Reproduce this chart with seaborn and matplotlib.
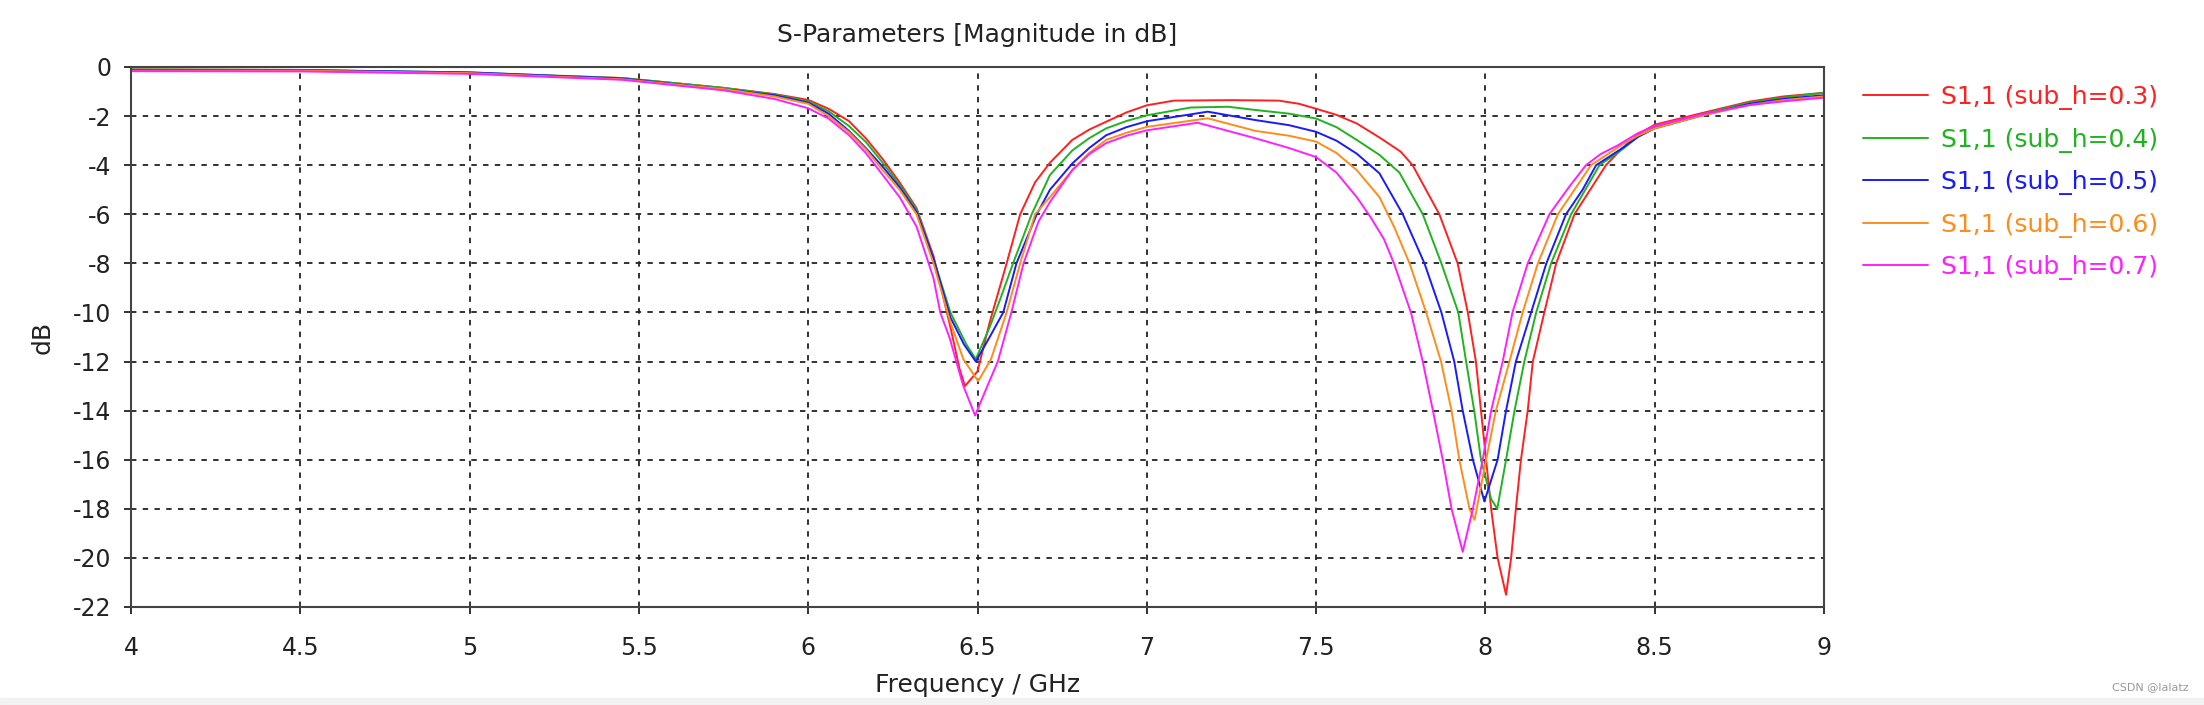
import numpy as np
import pandas as pd
import matplotlib
matplotlib.use('Agg')
import matplotlib.pyplot as plt
import seaborn as sns
from matplotlib.ticker import FormatStrFormatter

# values (GHz, dB)
freq_03 = [4.0, 4.5, 5.0, 5.45, 5.75, 5.9, 6.0, 6.06, 6.12, 6.17, 6.22, 6.27, 6.32, 6.37, 6.42, 6.447,
           6.463, 6.50, 6.536, 6.586, 6.626, 6.67, 6.714, 6.78, 6.83, 6.88, 6.94, 7.0, 7.08, 7.25, 7.39,
           7.45, 7.5, 7.56, 7.62, 7.687, 7.75, 7.785, 7.864, 7.918, 7.948, 7.972, 7.987, 8.002, 8.017,
           8.036, 8.061, 8.076, 8.09, 8.105, 8.125, 8.14, 8.174, 8.209, 8.263, 8.356, 8.405, 8.45, 8.5,
           8.633, 8.78, 8.88, 9.0]
s11_03 = [-0.1, -0.12, -0.25, -0.45, -0.85, -1.1, -1.34, -1.7, -2.2, -2.9, -3.75, -4.7, -5.75, -7.7,
          -10.6, -12.3, -13.0, -12.4, -10.4, -8.0, -6.0, -4.7, -3.9, -2.97, -2.55, -2.23, -1.85, -1.56,
          -1.37, -1.35, -1.37, -1.5, -1.7, -1.95, -2.3, -2.87, -3.45, -4.0, -6.0, -8.0, -10.0, -12.0,
          -14.0, -16.0, -18.0, -20.0, -21.5, -20.0, -18.0, -16.0, -14.0, -12.0, -10.0, -8.0, -6.0, -4.0,
          -3.3, -2.75, -2.35, -1.9, -1.41, -1.2, -1.05]

freq_04 = [4.0, 4.5, 5.0, 5.45, 5.75, 5.9, 6.0, 6.06, 6.12, 6.17, 6.22, 6.27, 6.32, 6.37, 6.42, 6.467,
           6.495, 6.536, 6.566, 6.605, 6.66, 6.714, 6.78, 6.83, 6.88, 6.94, 7.0, 7.13, 7.24, 7.32, 7.42,
           7.5, 7.56, 7.62, 7.687, 7.746, 7.815, 7.87, 7.92, 7.943, 7.967, 7.987, 8.017, 8.035, 8.061,
           8.086, 8.115, 8.15, 8.194, 8.253, 8.337, 8.405, 8.45, 8.5, 8.633, 8.78, 8.88, 9.0]
s11_04 = [-0.1, -0.12, -0.22, -0.45, -0.85, -1.12, -1.4, -1.8, -2.4, -3.05, -3.9, -4.8, -5.8, -7.8,
          -10.0, -11.3, -11.9, -10.6, -9.5, -8.0, -6.0, -4.4, -3.4, -2.9, -2.5, -2.2, -1.97, -1.65, -1.62,
          -1.75, -1.9, -2.1, -2.45, -2.97, -3.58, -4.3, -6.0, -8.0, -10.0, -12.0, -14.0, -16.0, -17.6,
          -18.0, -16.0, -14.0, -12.0, -10.0, -8.0, -6.0, -4.0, -3.35, -2.85, -2.45, -1.95, -1.45, -1.25,
          -1.05]

freq_05 = [4.0, 4.5, 5.0, 5.45, 5.75, 5.9, 6.0, 6.06, 6.12, 6.17, 6.22, 6.27, 6.32, 6.37, 6.42, 6.46,
           6.495, 6.536, 6.576, 6.615, 6.675, 6.714, 6.78, 6.83, 6.88, 6.94, 7.0, 7.18, 7.32, 7.42, 7.5,
           7.56, 7.62, 7.687, 7.756, 7.82, 7.87, 7.908, 7.933, 7.963, 7.997, 8.036, 8.061, 8.09, 8.135,
           8.18, 8.238, 8.287, 8.327, 8.405, 8.45, 8.5, 8.633, 8.78, 8.88, 9.0]
s11_05 = [-0.12, -0.13, -0.22, -0.47, -0.9, -1.15, -1.45, -1.9, -2.6, -3.3, -4.06, -4.9, -5.9, -7.8,
          -10.2, -11.3, -12.0, -11.0, -10.0, -8.0, -6.0, -5.0, -3.93, -3.3, -2.78, -2.45, -2.21, -1.82,
          -2.16, -2.37, -2.64, -3.0, -3.53, -4.33, -6.0, -8.0, -10.0, -12.0, -14.0, -16.0, -17.7, -16.0,
          -14.0, -12.0, -10.0, -8.0, -6.0, -5.0, -4.0, -3.3, -2.85, -2.5, -2.0, -1.5, -1.3, -1.15]

freq_06 = [4.0, 4.5, 5.0, 5.45, 5.75, 5.9, 6.0, 6.06, 6.12, 6.17, 6.22, 6.27, 6.32, 6.37, 6.42, 6.458,
           6.502, 6.54, 6.586, 6.626, 6.67, 6.714, 6.78, 6.83, 6.88, 6.94, 7.0, 7.18, 7.32, 7.42, 7.5,
           7.56, 7.62, 7.687, 7.73, 7.776, 7.825, 7.869, 7.9, 7.923, 7.953, 7.968, 8.002, 8.031, 8.071,
           8.11, 8.155, 8.214, 8.312, 8.405, 8.45, 8.5, 8.633, 8.78, 8.88, 9.0]
s11_06 = [-0.15, -0.15, -0.25, -0.5, -0.9, -1.2, -1.5, -2.0, -2.65, -3.35, -4.2, -5.0, -6.0, -8.0,
          -10.4, -11.9, -12.8, -11.9, -10.0, -8.0, -6.0, -5.3, -4.2, -3.5, -2.97, -2.68, -2.44, -2.09,
          -2.6, -2.8, -3.04, -3.5, -4.2, -5.3, -6.5, -8.0, -10.0, -12.0, -14.0, -16.0, -18.0, -18.45,
          -16.0, -14.0, -12.0, -10.0, -8.0, -6.0, -4.0, -3.15, -2.8, -2.5, -2.0, -1.55, -1.35, -1.2]

freq_07 = [4.0, 4.5, 5.0, 5.45, 5.75, 5.9, 6.0, 6.06, 6.12, 6.17, 6.22, 6.27, 6.32, 6.37, 6.39, 6.418,
           6.457, 6.493, 6.529, 6.56, 6.60, 6.636, 6.68, 6.714, 6.78, 6.83, 6.88, 6.94, 7.0, 7.15, 7.32,
           7.42, 7.5, 7.56, 7.62, 7.66, 7.70, 7.73, 7.78, 7.815, 7.845, 7.874, 7.9, 7.933, 7.963, 7.992,
           8.017, 8.051, 8.08, 8.125, 8.189, 8.248, 8.297, 8.34, 8.39, 8.45, 8.5, 8.633, 8.78, 8.88, 9.0]
s11_07 = [-0.17, -0.18, -0.28, -0.52, -0.95, -1.3, -1.68, -2.1, -2.77, -3.5, -4.4, -5.3, -6.5, -8.6,
          -10.0, -11.05, -12.95, -14.2, -13.0, -12.0, -10.0, -8.0, -6.3, -5.5, -4.2, -3.55, -3.1, -2.8,
          -2.58, -2.27, -2.9, -3.3, -3.67, -4.3, -5.3, -6.1, -7.0, -8.0, -10.0, -12.0, -14.0, -16.0,
          -18.0, -19.75, -18.0, -16.0, -14.0, -12.0, -10.0, -8.0, -6.0, -4.87, -4.0, -3.55, -3.2, -2.7,
          -2.4, -1.95, -1.55, -1.4, -1.25]

labels = ['S1,1 (sub_h=0.3)', 'S1,1 (sub_h=0.4)', 'S1,1 (sub_h=0.5)',
          'S1,1 (sub_h=0.6)', 'S1,1 (sub_h=0.7)']
colors = ['#ff2020', '#1fb41f', '#1a1aff', '#ff8c1a', '#ff20ff']

frames = []
for lab, f, s in zip(labels, [freq_03, freq_04, freq_05, freq_06, freq_07],
                     [s11_03, s11_04, s11_05, s11_06, s11_07]):
    frames.append(pd.DataFrame({'freq': f, 'db': s, 'curve': lab}))
df = pd.concat(frames, ignore_index=True)

sns.set_style('white')
plt.rcParams['font.family'] = ['DejaVu Sans']
plt.rcParams['axes.unicode_minus'] = False

fig = plt.figure(figsize=(22.04, 7.05), dpi=100)
ax = fig.add_axes([131 / 2204, 1 - 607 / 705, 1693 / 2204, 540 / 705])

sns.lineplot(data=df, x='freq', y='db', hue='curve', hue_order=labels,
             palette=dict(zip(labels, colors)), estimator=None, sort=False,
             linewidth=1.4, ax=ax, legend=False)

ax.set_xlim(4, 9)
ax.set_ylim(-22, 0)
ax.set_xticks(np.arange(4, 9.01, 0.5))
ax.set_yticks(np.arange(-22, 0.1, 2))
ax.xaxis.set_major_formatter(FormatStrFormatter('%g'))
ax.yaxis.set_major_formatter(FormatStrFormatter('%g'))
ax.grid(True, color='#222222', linestyle=(0, (3, 3.5)), linewidth=1.3)
ax.tick_params(axis='both', direction='out', length=5, width=1.3, labelsize=17,
               colors='#222222', left=True, bottom=True)
ax.tick_params(axis='x', pad=16)
ax.tick_params(axis='y', pad=9)
for sp in ax.spines.values():
    sp.set_color('#444444')
    sp.set_linewidth(1.5)

ax.set_title('S-Parameters [Magnitude in dB]', fontsize=18, pad=18, color='#222222')
ax.set_xlabel('Frequency / GHz', fontsize=18, color='#222222', labelpad=9)
ax.set_ylabel('dB', fontsize=18, color='#222222', labelpad=13)

handles = [plt.Line2D([], [], color=c, linewidth=1.4) for c in colors]
ax.legend(handles, labels, loc='upper left', bbox_to_anchor=(1.01, 1.008), frameon=False,
          fontsize=18, labelcolor='linecolor', handlelength=2.6, handletextpad=0.5,
          labelspacing=0.7)

fig.patches.append(plt.Rectangle((0, 0), 1, 7 / 705, transform=fig.transFigure,
                                 color='#f2f2f2', zorder=0))
fig.text(0.993, 0.018, 'CSDN @lalatz', ha='right', va='bottom', fontsize=8, color='#999999')

fig.savefig('out.png', dpi=100, facecolor='white')
